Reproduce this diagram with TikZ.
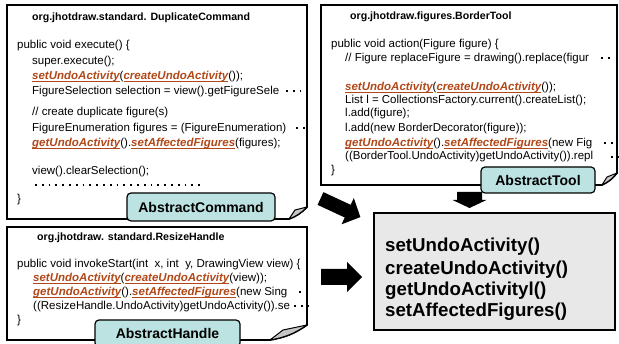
\documentclass[tikz,border=0pt]{standalone}
\usepackage{fontspec}
\setmainfont{Liberation Sans}
\definecolor{hlc}{RGB}{178,72,24}
\definecolor{labc}{RGB}{188,226,226}
\definecolor{boxg}{RGB}{232,232,232}
\newcommand{\ulword}[1]{\setbox0\hbox{#1}\rlap{\rule[-2.2pt]{\wd0}{0.8pt}}\box0}
\newcommand{\hlword}[1]{{\color{hlc}\bfseries\itshape\ulword{#1}}}
\newcommand{\blockarrow}[6]{%
  \begin{scope}[shift={(#1)},rotate=#2]
    \fill (0,-#4) -- ({#3-#6},-#4) -- ({#3-#6},-#5) -- (#3,0) -- ({#3-#6},#5) -- ({#3-#6},#4) -- (0,#4) -- cycle;
  \end{scope}}
\begin{document}
\begin{tikzpicture}[x=1pt,y=-1pt,
  code/.style={anchor=base west, inner sep=0pt, font=\fontsize{11.5}{13}\selectfont},
  ttl/.style={anchor=base west, inner sep=0pt, font=\fontsize{10.6}{13}\selectfont\bfseries},
  lab/.style={draw, line width=1.2pt, rounded corners=4pt, fill=labc, font=\fontsize{14}{16}\selectfont\bfseries, inner sep=0pt},
  big/.style={anchor=base west, inner sep=0pt, font=\fontsize{18.7}{21}\selectfont\bfseries},
  frame/.style={draw, line width=1.8pt, fill=white, line join=miter},
  flap/.style={draw, line width=1pt, fill=gray!45, line join=round},
  dots/.style={line width=1.8pt, dash pattern=on 1.8pt off 5pt}
]
\useasboundingbox (0,0) rectangle (619,344);

% ---------- frames ----------
\path[frame] (7,5) -- (307,5) -- (307,207) to[bend left=12] (289,219) -- (7,219) -- cycle;
\path[flap] (307,207) -- (295,210) -- (289,219) to[bend right=12] cycle;

\path[frame] (321,5) -- (617,5) -- (617,173) to[bend left=12] (602,185) -- (321,185) -- cycle;
\path[flap] (617,173) -- (607,177) -- (602,185) to[bend right=12] cycle;

\path[frame] (7,227) -- (307,227) -- (307,325) to[bend left=12] (270,340) -- (7,340) -- cycle;
\path[flap] (307,325) -- (283,330) -- (270,340) to[bend right=12] cycle;

\path[frame, fill=boxg] (374,213) rectangle (615,330);

% ---------- box 1 ----------
\node[ttl]  (t1) at (32,21) {org.jhotdraw.standard. DuplicateCommand};
\node[code] (a1) at (17,49) {public void execute() \{};
\node[code] (a2) at (32,65) {super.execute();};
\node[code] (a3) at (32,80) {\hlword{setUndoActivity}(\hlword{createUndoActivity}());};
\node[code] (a4) at (32,95) {FigureSelection selection = view().getFigureSele};
\node[code] (a5) at (32,116) {// create duplicate figure(s)};
\node[code] (a6) at (32,132) {FigureEnumeration figures = (FigureEnumeration)};
\node[code] (a7) at (32,147) {\hlword{getUndoActivity}().\hlword{setAffectedFigures}(figures);};
\node[code] (a8) at (32,175) {view().clearSelection();};
\node[code] (a9) at (17,203) {\}};
\draw[dots] (286,91) -- (303,91);
\draw[dots] (296,128) -- (307,128);
\draw[dots] (35,185) -- (204,185);

% ---------- box 2 ----------
\node[ttl]  (t2) at (350,20) {org.jhotdraw.figures.BorderTool};
\node[code] (b1) at (331,48) {public void action(Figure figure) \{};
\node[code] (b2) at (345,62) {// Figure replaceFigure = drawing().replace(figur};
\node[code] (b3) at (345,91) {\hlword{setUndoActivity}(\hlword{createUndoActivity}());};
\node[code] (b4) at (345,104) {List l = CollectionsFactory.current().createList();};
\node[code] (b5) at (345,117) {l.add(figure);};
\node[code] (b6) at (345,132) {l.add(new BorderDecorator(figure));};
\node[code] (b7) at (345,147) {\hlword{getUndoActivity}().\hlword{setAffectedFigures}(new Fig};
\node[code] (b8) at (345,160) {((BorderTool.UndoActivity)getUndoActivity()).repl};
\node[code] (b9) at (331,174) {\}};
\draw[dots] (601,58) -- (612,58);
\draw[dots] (604,143) -- (615,143);
\draw[dots] (611,157) -- (622,157);

% ---------- box 3 ----------
\node[ttl]  (t3) at (37,241) {org.jhotdraw. standard.ResizeHandle};
\node[code] (c1) at (17,268) {public void invokeStart(int\ \ x, int\ \ y, DrawingView view) \{};
\node[code] (c2) at (33,282) {\hlword{setUndoActivity}(\hlword{createUndoActivity}(view));};
\node[code] (c3) at (33,296) {\hlword{getUndoActivity}().\hlword{setAffectedFigures}(new Sing};
\node[code] (c4) at (33,310) {((ResizeHandle.UndoActivity)getUndoActivity()).se};
\node[code] (c5) at (17,324) {\}};
\draw[dots] (299,292) -- (310,292);
\draw[dots] (294,306) -- (311,306);

% ---------- labels ----------
\node[lab, minimum width=148pt, minimum height=28pt] (lc) at (201,207) {AbstractCommand};
\node[lab, minimum width=114pt, minimum height=26pt] (lt) at (538,180) {AbstractTool};
\node[lab, minimum width=145pt, minimum height=27pt] (lh) at (167.5,333.5) {AbstractHandle};

% ---------- summary box ----------
\node[big] (s1) at (385,251.5) {setUndoActivity()};
\node[big] (s2) at (385,274.5) {createUndoActivity()};
\node[big] (s3) at (385,295.5) {getUndoActivityl()};
\node[big] (s4) at (385,316.5) {setAffectedFigures()};

% ---------- block arrows ----------
\blockarrow{320.5,198.5}{-25}{44}{7}{14.5}{14}
\blockarrow{469.5,192}{-90}{16}{12.5}{17}{8}
\blockarrow{321,277}{0}{41}{8}{15}{15}
\end{tikzpicture}
\end{document}
